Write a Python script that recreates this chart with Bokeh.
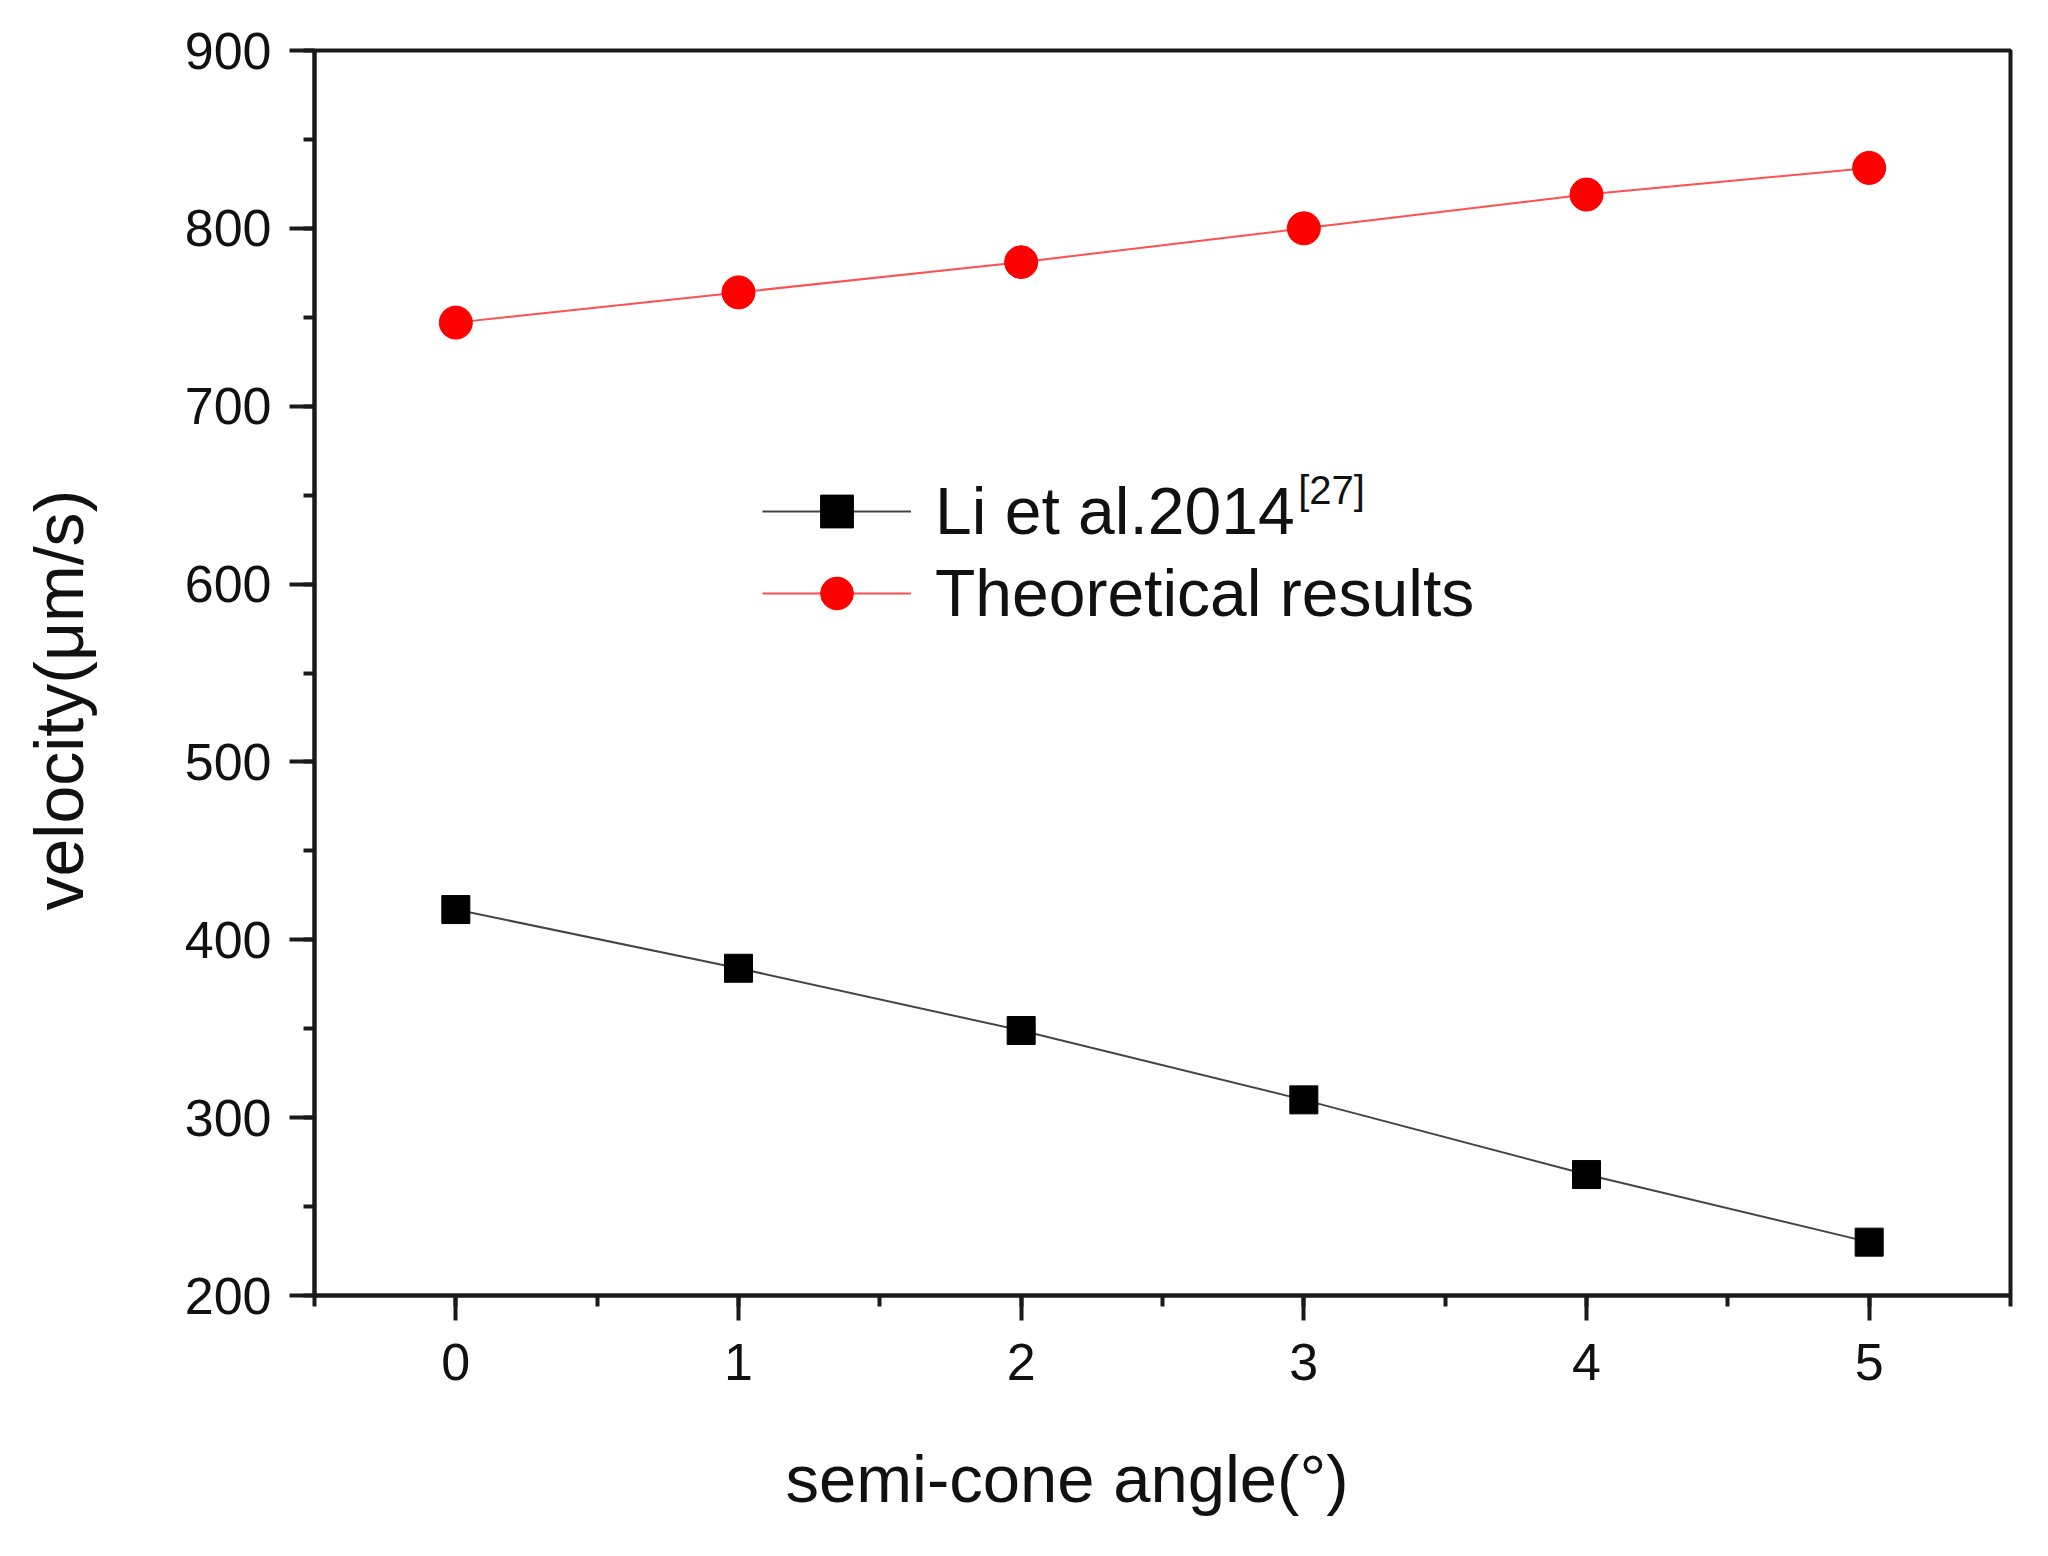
from bokeh.plotting import figure
from bokeh.models import SingleIntervalTicker, Legend, LegendItem, Label, Title
from bokeh.embed import file_html
from bokeh.resources import INLINE

angle = [0, 1, 2, 3, 4, 5]
li2014 = [417, 384, 349, 310, 268, 230]
theory = [747, 764, 781, 800, 819, 834]

x_title = "semi-cone angle(°)"
y_title = "velocity(μm/s)"

FONT = "Liberation Sans"

p = figure(width=2032, height=1548, x_range=(-0.5, 5.5), y_range=(200, 900),
           output_backend="svg", toolbar_location=None,
           min_border_left=314, min_border_right=22, min_border_top=50, min_border_bottom=253)

p.grid.visible = False
p.outline_line_color = "#1a1a1a"
p.outline_line_width = 4
p.background_fill_color = "white"
p.border_fill_color = "white"

p.xaxis.ticker = SingleIntervalTicker(interval=1, num_minor_ticks=2)
p.yaxis.ticker = SingleIntervalTicker(interval=100, num_minor_ticks=2)

for ax in (p.xaxis[0], p.yaxis[0]):
    ax.axis_line_width = 4
    ax.axis_line_color = "#1a1a1a"
    ax.major_tick_line_width = 4
    ax.minor_tick_line_width = 4
    ax.major_tick_line_color = "#1a1a1a"
    ax.minor_tick_line_color = "#1a1a1a"
    ax.major_tick_out = 25
    ax.major_tick_in = 0
    ax.minor_tick_out = 11
    ax.minor_tick_in = 0
    ax.major_label_text_font = FONT
    ax.major_label_text_font_size = "52px"
    ax.major_label_text_color = "#111111"
    # spacer between tick labels and the title panel
    ax.axis_label = " "
    ax.axis_label_text_font_size = "1px"
    ax.axis_label_text_alpha = 0

p.xaxis.major_label_standoff = 23
p.yaxis.major_label_standoff = 18
p.xaxis.axis_label_standoff = 54
p.yaxis.axis_label_standoff = 81

l1 = p.line(angle, li2014, line_color="#444444", line_width=2)
s1 = p.scatter(angle, li2014, marker="square", size=28, fill_color="black", line_color="black")
l2 = p.line(angle, theory, line_color="#ff5050", line_width=2)
s2 = p.scatter(angle, theory, marker="circle", size=33, fill_color="#ff0000", line_color="#ff0000")

legend = Legend(items=[
    LegendItem(label="Li et al.2014", renderers=[l1, s1]),
    LegendItem(label="Theoretical results", renderers=[l2, s2]),
], location=(448, 661))
legend.glyph_width = 149
legend.glyph_height = 82
legend.label_height = 82
legend.label_standoff = 24
legend.padding = 0
legend.margin = 0
legend.spacing = 0
legend.border_line_color = None
legend.background_fill_alpha = 0
legend.label_text_font = FONT
legend.label_text_font_size = "66px"
legend.label_text_color = "#111111"
p.add_layout(legend, "center")

sup = Label(x=2.98, y=665, text="[27]", text_font=FONT, text_font_size="40px",
            text_baseline="top", text_align="left", text_color="#111111")
p.add_layout(sup)

xt = Title(text=x_title, align="left", offset=471, standoff=0, vertical_align="top",
           text_font=FONT, text_font_size="67px", text_font_style="normal", text_color="#111111")
yt = Title(text=y_title, align="left", offset=385, standoff=0, vertical_align="bottom",
           text_font=FONT, text_font_size="68px", text_font_style="normal", text_color="#111111")
p.add_layout(xt, "below")
p.add_layout(yt, "left")

open("out.html", "w").write(file_html(p, INLINE))
